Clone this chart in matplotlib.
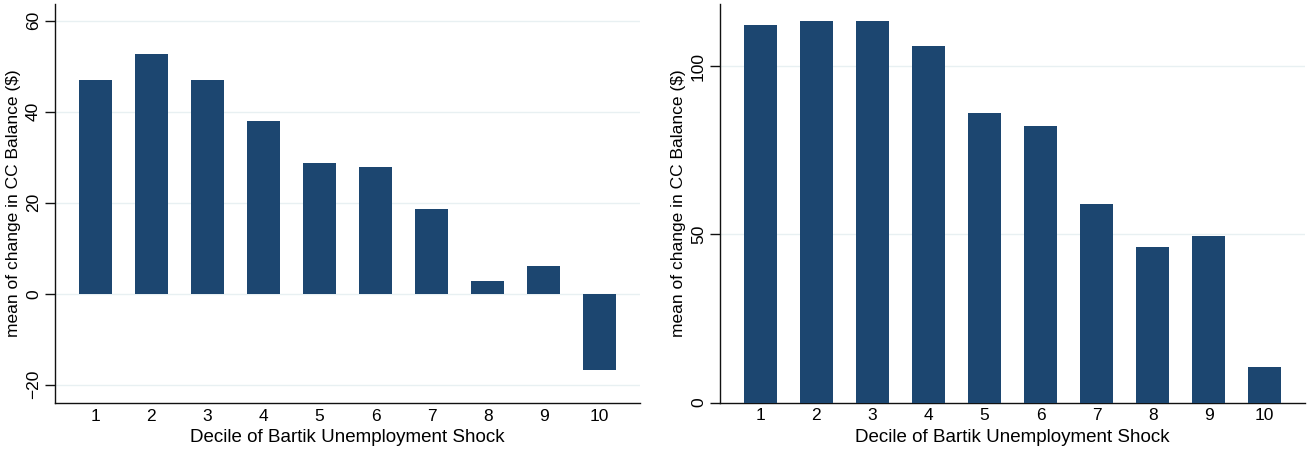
import matplotlib
matplotlib.use("Agg")
import matplotlib.pyplot as plt

plt.rcParams['font.family'] = ['Liberation Sans', 'DejaVu Sans']

deciles = [1, 2, 3, 4, 5, 6, 7, 8, 9, 10]
left_means = [47.1, 52.8, 46.9, 38.0, 28.8, 27.8, 18.7, 2.9, 6.2, -16.7]
right_means = [112.3, 113.5, 113.5, 106.0, 86.0, 82.2, 58.9, 46.2, 49.5, 10.6]
left_yticks = [-20, 0, 20, 40, 60]
right_yticks = [0, 50, 100]

xlabel = "Decile of Bartik Unemployment Shock"
ylabel = "mean of change in CC Balance ($)"

bar_color = "#1c4670"
grid_color = "#e8f0f2"

fig = plt.figure(figsize=(13.07, 4.53), dpi=100)
ax1 = fig.add_axes([55 / 1307, 1 - 403 / 453, 585 / 1307, 399 / 453])
ax2 = fig.add_axes([720 / 1307, 1 - 402.5 / 453, 585 / 1307, 398.5 / 453])


def style(ax, values, yticks, ylim, grid_ticks):
    ax.bar(deciles, values, width=0.6, color=bar_color, zorder=3)
    ax.set_xlim(0.28, 10.72)
    ax.set_ylim(*ylim)
    ax.set_xticks(deciles)
    ax.set_yticks(yticks)
    for g in grid_ticks:
        ax.axhline(g, color=grid_color, lw=1.0, zorder=1)
    for s in ("top", "right"):
        ax.spines[s].set_visible(False)
    for s in ("left", "bottom"):
        ax.spines[s].set_linewidth(1.0)
        ax.spines[s].set_color("#111111")
    ax.tick_params(axis="x", length=0, pad=4, labelsize=12.5)
    ax.tick_params(axis="y", length=7, width=1, pad=3, labelsize=12.5,
                   labelrotation=90, color="#111111")
    for lab in ax.get_yticklabels():
        lab.set_va("center")
    ax.set_xlabel(xlabel, fontsize=13.5, labelpad=4)
    ax.set_ylabel(ylabel, fontsize=12.5, labelpad=4)


style(ax1, left_means, left_yticks, (-24.0, 63.7), left_yticks)
style(ax2, right_means, right_yticks, (0, 118.5), [50, 100])

fig.savefig("out.png", dpi=100)
